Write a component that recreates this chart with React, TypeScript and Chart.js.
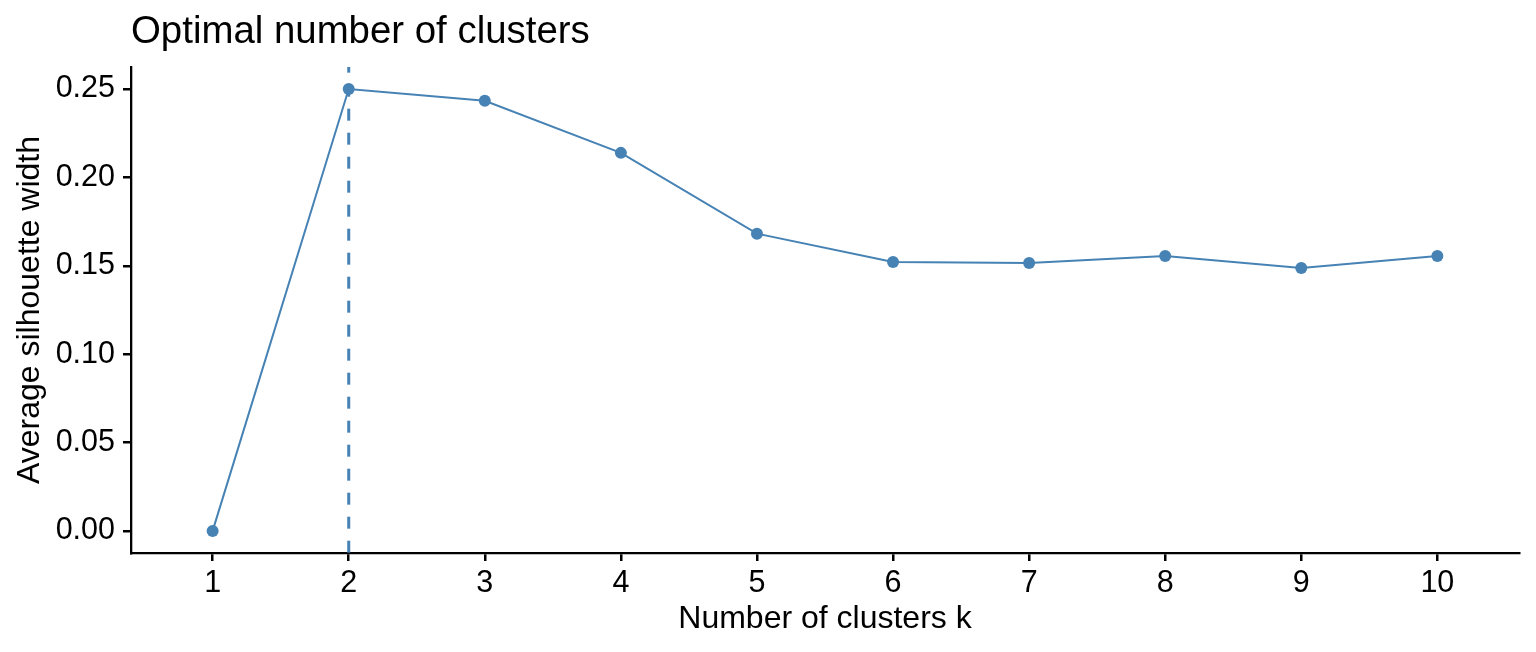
import { useEffect, useRef } from "react";
import { Chart, registerables } from "chart.js";

Chart.register(...registerables);

const clusters = [1, 2, 3, 4, 5, 6, 7, 8, 9, 10];
const silhouette = [0.0, 0.25, 0.2434, 0.2139, 0.1682, 0.1522, 0.1516, 0.1556, 0.1488, 0.1556];
const yTicks = [0.0, 0.05, 0.1, 0.15, 0.2, 0.25];
const optimalK = 2;

const steelblue = "#4682B4";
const fontFamily = "'Liberation Sans', Arial, sans-serif";

// dashed vertical line at the optimal k, over the whole panel height
const vlinePlugin = {
  id: "vline",
  afterDatasetsDraw(chart: any) {
    const { ctx, chartArea, scales } = chart;
    const x = scales.x.getPixelForValue(optimalK);
    ctx.save();
    ctx.strokeStyle = steelblue;
    ctx.lineWidth = 3;
    ctx.setLineDash([12, 12]);
    ctx.lineDashOffset = 6.3;
    ctx.beginPath();
    ctx.moveTo(x, chartArea.top);
    ctx.lineTo(x, chartArea.bottom);
    ctx.stroke();
    ctx.restore();
  },
};

const App = () => {
  const canvasRef = useRef<HTMLCanvasElement>(null);

  useEffect(() => {
    document.body.style.margin = "0";
    const ctx = canvasRef.current?.getContext("2d");
    if (!ctx) return;

    const chart = new Chart(ctx, {
      type: "line",
      data: {
        datasets: [
          {
            data: clusters.map((k, i) => ({ x: k, y: silhouette[i] })),
            borderColor: steelblue,
            backgroundColor: steelblue,
            borderWidth: 2,
            pointRadius: 6,
            pointBorderWidth: 0,
            pointHoverRadius: 6,
            tension: 0,
          },
        ],
      },
      options: {
        responsive: false,
        animation: false,
        layout: { padding: { left: 0, right: 17, top: 0, bottom: 0 } },
        plugins: {
          legend: { display: false },
          tooltip: { enabled: false },
          title: {
            display: true,
            text: "Optimal number of clusters",
            align: "start",
            fullSize: false,
            color: "#000",
            font: { family: fontFamily, size: 38.4, weight: "normal" },
            padding: { top: 9.2, bottom: 11.7 },
          },
        },
        scales: {
          x: {
            type: "linear",
            min: 0.4,
            max: 10.6,
            afterBuildTicks: (axis: any) => {
              axis.ticks = clusters.map((v) => ({ value: v }));
            },
            afterFit: (scale: any) => {
              scale.height = 99;
            },
            grid: {
              display: true,
              drawOnChartArea: false,
              drawTicks: true,
              tickLength: 8,
              color: "#000",
              lineWidth: 2.5,
            },
            border: { display: true, color: "#000", width: 2.3 },
            ticks: {
              color: "#000",
              padding: 4,
              maxRotation: 0,
              font: { family: fontFamily, size: 30.5 },
              callback: (v: any) => String(v),
            },
            title: {
              display: true,
              text: "Number of clusters k",
              color: "#000",
              font: { family: fontFamily, size: 32 },
              padding: { top: 0, bottom: 13.9 },
            },
          },
          y: {
            type: "linear",
            min: -0.0125,
            max: 0.2625,
            afterBuildTicks: (axis: any) => {
              axis.ticks = yTicks.map((v) => ({ value: v }));
            },
            afterFit: (scale: any) => {
              scale.width = 131;
            },
            grid: {
              display: true,
              drawOnChartArea: false,
              drawTicks: true,
              tickLength: 8,
              color: "#000",
              lineWidth: 2.5,
            },
            border: { display: true, color: "#000", width: 2.3 },
            ticks: {
              color: "#000",
              padding: 8,
              font: { family: fontFamily, size: 30.5 },
              callback: (v: any) => Number(v).toFixed(2),
            },
            title: {
              display: true,
              text: "Average silhouette width",
              color: "#000",
              font: { family: fontFamily, size: 32 },
              padding: { top: 10.6, bottom: 0 },
            },
          },
        },
      },
      plugins: [vlinePlugin],
    });

    return () => {
      chart.destroy();
    };
  }, []);

  return (
    <div style={{ position: "absolute", left: 0, top: 0, width: 1536, height: 652, background: "#fff" }}>
      <canvas ref={canvasRef} width={1536} height={652}></canvas>
    </div>
  );
};

export default App;
